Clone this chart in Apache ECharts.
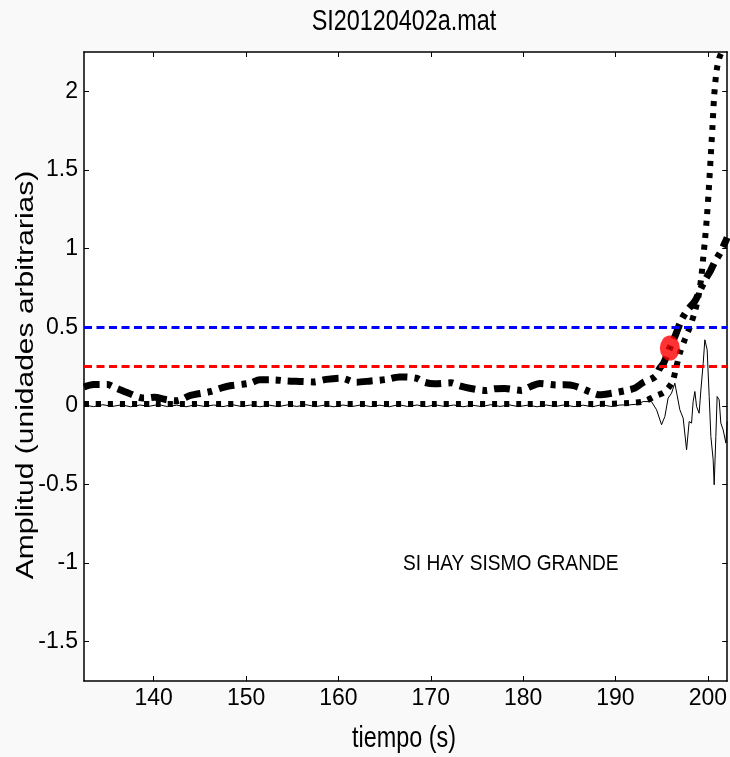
<!DOCTYPE html>
<html>
<head>
<meta charset="utf-8">
<script src="https://cdn.jsdelivr.net/npm/echarts@6/dist/echarts.min.js"></script>
<style>
html,body{margin:0;padding:0;background:#f9f9f9;}
#c{width:730px;height:757px;}
</style>
</head>
<body>
<div id="c"></div>
<script>
// ---- data ----
var xTicks = [140, 150, 160, 170, 180, 190, 200];
var yTicks = [-1.5, -1, -0.5, 0, 0.5, 1, 1.5, 2];
var thresholdHigh = 0.5;
var thresholdLow = 0.25;

// thin seismic trace
var traceX = [132.5,133.5,134.5,135.5,136.5,137.5,138.5,139.5,140.5,141.5,142.5,143.5,144.5,145.5,146.5,147.5,148.5,149.5,150.5,151.5,
  152.5,153.5,154.5,155.5,156.5,157.5,158.5,159.5,160.5,161.5,162.5,163.5,164.5,165.5,166.5,167.5,168.5,169.5,170.5,171.5,
  172.5,173.5,174.5,175.5,176.5,177.5,178.5,179.5,180.5,181.5,182.5,183.5,184.5,185.5,186.5,187.5,188.5,189.5,190.5,191.5,
  192.3,193.0,193.9,194.45,194.99,195.35,195.7,196.07,196.43,196.6,196.97,197.33,197.7,197.98,198.24,198.41,198.6,198.78,199.06,199.25,
  199.5,199.68,199.93,200.15,200.33,200.58,200.69,200.87,201.01,201.23,201.41,201.66,201.96,202.1];
var traceY = [0.004,-0.005,0.007,-0.004,0.006,-0.006,0.005,-0.003,0.008,-0.005,0.004,-0.006,0.006,-0.004,0.005,-0.005,0.007,-0.004,0.005,-0.006,
  0.004,-0.005,0.006,-0.004,0.007,-0.005,0.004,-0.006,0.005,-0.004,0.006,-0.005,0.004,-0.006,0.007,-0.004,0.005,-0.005,0.006,-0.004,
  0.005,-0.006,0.004,-0.005,0.007,-0.004,0.006,-0.005,0.004,-0.006,0.005,-0.004,0.006,-0.005,0.004,-0.006,0.007,-0.004,0.005,0.006,
  0.01,0.027,0.027,-0.025,-0.12,-0.068,0.049,0.08,0.144,0.134,-0.025,-0.078,-0.28,-0.1,-0.11,0.027,0.091,-0.004,-0.047,0.1,
  0.27,0.42,0.356,0.059,-0.195,-0.343,-0.502,-0.195,0.059,0.038,-0.11,-0.153,-0.237,-0.1];

// thick dotted curve
var dotX = [132.45,140,150,160,170,180,188,191.5,193.0,194.26,195.35,196.17,196.6,196.97,197.5,198.05,198.6,199.0,199.3,199.5,199.7,199.9,200.1,200.3,200.5,200.7,200.95,201.23,201.6,202.1];
var dotY = [0.012,0.012,0.012,0.012,0.012,0.012,0.012,0.018,0.027,0.06,0.09,0.155,0.25,0.335,0.42,0.5,0.6,0.7,0.82,0.94,1.06,1.2,1.37,1.57,1.77,1.98,2.13,2.21,2.26,2.32];

// thick dash-dot curve
var ddX = [132.45,133.5,135.0,135.9,137.3,138.8,139.3,140.1,141.3,142.4,143.2,143.9,146.1,147.9,150.4,151.5,153.0,154.4,155.8,157.3,158.7,160.3,161.9,163.5,165.2,166.6,168.4,169.3,170.4,172.2,173.1,174.2,176.0,176.9,178.0,179.8,180.7,181.8,183.6,184.5,185.6,187.4,188.3,189.4,191.2,192.1,193.0,194.3,194.8,195.2,195.9,196.5,197.15,197.8,198.6,199.2,199.7,200.3,200.8,201.4,202.1];
var ddY = [0.12,0.135,0.135,0.113,0.08,0.05,0.05,0.055,0.04,0.032,0.045,0.065,0.09,0.123,0.144,0.165,0.165,0.158,0.155,0.152,0.168,0.176,0.15,0.158,0.168,0.184,0.176,0.15,0.14,0.146,0.127,0.112,0.097,0.108,0.11,0.098,0.12,0.142,0.133,0.134,0.126,0.085,0.07,0.078,0.098,0.113,0.148,0.186,0.24,0.27,0.37,0.45,0.547,0.61,0.665,0.74,0.8,0.86,0.92,0.98,1.07];

// detection point
var detectX = [195.89];
var detectY = [0.367];

var xMin = 132.45, xMax = 202.1, yMin = -1.75, yMax = 2.25;

function pairs(xs, ys){ var o=[]; for (var i=0;i<xs.length;i++) o.push([xs[i], ys[i]]); return o; }

var FONT = "'Liberation Sans Narrow','Arial Narrow','Liberation Sans',Arial,sans-serif";
var FONT2 = "'Liberation Sans',Arial,sans-serif";

var chart = echarts.init(document.getElementById('c'));
var tickStyle = {show:true, inside:true, length:5, lineStyle:{color:'#000', width:1}};
chart.setOption({
  backgroundColor:'#f9f9f9',
  animation:false,
  grid:{left:84, right:2, top:52, bottom:76, show:true, backgroundColor:'#fff', borderWidth:0},
  xAxis:[{
    type:'value', min:xMin, max:xMax, position:'bottom',
    axisLine:{show:true, onZero:false, lineStyle:{color:'#000', width:1.5}},
    axisTick:Object.assign({customValues:xTicks}, tickStyle),
    axisLabel:{customValues:xTicks, color:'#000', fontSize:23, fontFamily:FONT, margin:6},
    splitLine:{show:false}
  },{
    type:'value', min:xMin, max:xMax, position:'top',
    axisLine:{show:true, onZero:false, lineStyle:{color:'#000', width:1.5}},
    axisTick:Object.assign({customValues:xTicks}, tickStyle),
    axisLabel:{show:false},
    splitLine:{show:false}
  }],
  yAxis:[{
    type:'value', min:yMin, max:yMax, position:'left',
    axisLine:{show:true, onZero:false, lineStyle:{color:'#000', width:1.5}},
    axisTick:Object.assign({customValues:yTicks}, tickStyle),
    axisLabel:{customValues:yTicks, color:'#000', fontSize:23, fontFamily:FONT, margin:6},
    splitLine:{show:false}
  },{
    type:'value', min:yMin, max:yMax, position:'right',
    axisLine:{show:true, onZero:false, lineStyle:{color:'#000', width:1.5}},
    axisTick:Object.assign({customValues:yTicks}, tickStyle),
    axisLabel:{show:false},
    splitLine:{show:false}
  }],
  series:[
    {type:'line', data:pairs(traceX, traceY), symbol:'none', lineStyle:{color:'#000', width:1}, z:2,
     markLine:{silent:true, symbol:'none', label:{show:false},
       data:[{yAxis:thresholdHigh, lineStyle:{color:'#0000ff', width:3, type:[8,4.5]}},
             {yAxis:thresholdLow, lineStyle:{color:'#ff0000', width:3, type:[8,4.5]}}]}},
    {type:'line', data:pairs(dotX, dotY), symbol:'none', smooth:0.3, lineStyle:{color:'#000', width:6, type:[5,7], cap:'butt'}, z:3},
    {type:'line', data:pairs(ddX, ddY), symbol:'none', smooth:0.3, lineStyle:{color:'#000', width:7, type:[16,7,5,7], cap:'butt'}, z:4},
    {type:'scatter', data:pairs(detectX, detectY), symbol:'circle', symbolSize:[20,25], itemStyle:{color:'#ff0000'}, z:5},
    {type:'scatter', data:pairs(detectX, detectY), symbol:'circle', symbolSize:2, itemStyle:{color:'#000'}, z:6}
  ],
  graphic:[
    {type:'text', x:404, y:22, scaleX:0.78, style:{text:'SI20120402a.mat', x:0, y:0, align:'center', verticalAlign:'middle', font:"30px "+FONT2, fill:'#000'}},
    {type:'text', x:404, y:739, scaleX:0.78, style:{text:'tiempo (s)', x:0, y:0, align:'center', verticalAlign:'middle', font:"30px "+FONT2, fill:'#000'}},
    {type:'text', x:26, y:375, rotation:Math.PI/2, scaleY:0.8, style:{text:'Amplitud (unidades arbitrarias)', x:0, y:0, align:'center', verticalAlign:'middle', font:"30px "+FONT2, fill:'#000'}},
    {type:'text', x:403, y:564, scaleX:0.87, style:{text:'SI HAY SISMO GRANDE', x:0, y:0, align:'left', verticalAlign:'middle', font:"22px "+FONT2, fill:'#000'}}
  ]
});
</script>
</body>
</html>
